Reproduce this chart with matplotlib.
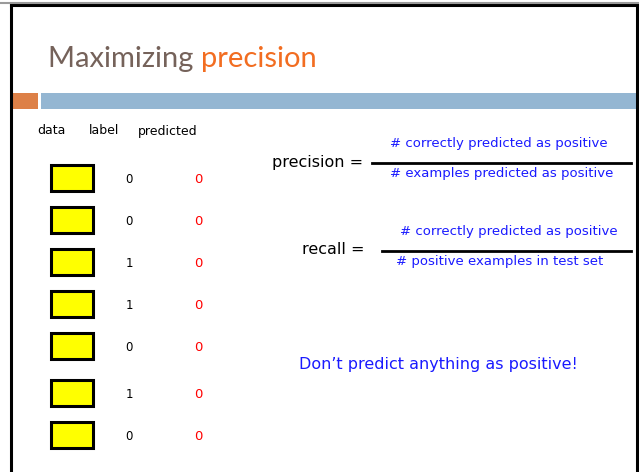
import matplotlib
matplotlib.use("Agg")
import matplotlib.pyplot as plt
from matplotlib.patches import Rectangle

# table contents
headers = ["data", "label", "predicted"]
labels = [0, 0, 1, 1, 0, 1, 0]
predicted = [0, 0, 0, 0, 0, 0, 0]
row_y = [177.5, 219.5, 261.5, 303.5, 345.5, 392.5, 434.5]

title_dark = "Maximizing "
title_hi = "precision"
prec_num = "# correctly predicted as positive"
prec_den = "# examples predicted as positive"
rec_num = "# correctly predicted as positive"
rec_den = "# positive examples in test set"
note = "Don\u2019t predict anything as positive!"

FONT = "DejaVu Sans"
TITLE_FONT = "Lato"
BLUE = "#1a1aff"

fig = plt.figure(figsize=(6.39, 4.72), dpi=100)
ax = fig.add_axes([0, 0, 1, 1])
ax.set_xlim(0, 639)
ax.set_ylim(472, 0)
ax.axis("off")

# slide frame
ax.plot([10.5, 10.5], [472, 5], color="black", lw=2.2)
ax.plot([10.5, 636.5], [5, 5], color="black", lw=2.2)
ax.plot([636.5, 636.5], [5, 472], color="black", lw=2.2)
ax.plot([0, 639], [3, 3], color="#9a9a9a", lw=1.5)

# title
t1 = ax.text(48, 67, title_dark, fontsize=21, color="#75625a", family=TITLE_FONT, va="baseline")
fig.canvas.draw()
bb = t1.get_window_extent().transformed(ax.transData.inverted())
ax.text(bb.x1, 67, title_hi, fontsize=21, color="#f26d21", family=TITLE_FONT, va="baseline")

# header bars
ax.add_patch(Rectangle((10, 93), 28, 16, color="#dd8047", lw=0))
ax.add_patch(Rectangle((41, 93), 595, 16, color="#94b6d2", lw=0))

# table
col_x = [51, 104, 168]
for x, h in zip(col_x, headers):
    ax.text(x, 131, h, fontsize=9, family=FONT, ha="center", va="center")

for y, lab, pr in zip(row_y, labels, predicted):
    ax.add_patch(Rectangle((50.5, y - 13), 42, 26, facecolor="#ffff00",
                           edgecolor="black", lw=2.2))
    ax.text(129, y + 2, str(lab), fontsize=8.5, family=FONT, ha="center", va="center")
    ax.text(198, y + 2, str(pr), fontsize=9.5, color="red", family=FONT,
            ha="center", va="center")

# formulas
ax.text(363, 163, "precision =", fontsize=11.5, family=FONT, ha="right", va="center")
ax.plot([372, 631], [163, 163], color="black", lw=2)
ax.text(499, 144, prec_num, fontsize=9.5, color=BLUE, family=FONT, ha="center", va="center")
ax.text(502, 174, prec_den, fontsize=9.5, color=BLUE, family=FONT, ha="center", va="center")

ax.text(364, 250, "recall =", fontsize=11.5, family=FONT, ha="right", va="center")
ax.plot([382, 631], [251, 251], color="black", lw=2)
ax.text(509, 231, rec_num, fontsize=9.5, color=BLUE, family=FONT, ha="center", va="center")
ax.text(500, 262, rec_den, fontsize=9.5, color=BLUE, family=FONT, ha="center", va="center")

ax.text(299, 364, note, fontsize=11.5, color=BLUE, family=FONT, ha="left", va="center")

fig.savefig("out.png", dpi=100)
